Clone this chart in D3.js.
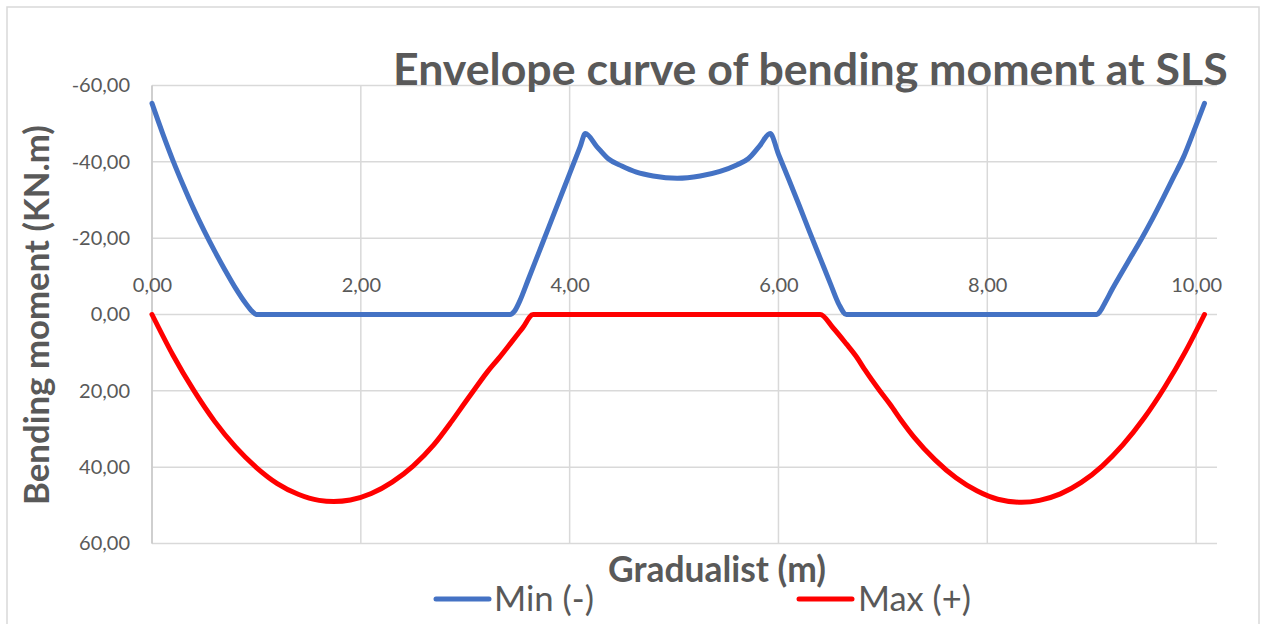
<!DOCTYPE html>
<html>
<head>
<meta charset="utf-8">
<script src="https://cdn.jsdelivr.net/npm/d3@7"></script>
<style>
  body { margin: 0; background: #fff; }
  svg { display: block; }
  text { font-family: Lato, "Open Sans", "Liberation Sans", sans-serif; fill: #595959; }
</style>
</head>
<body>
<svg id="chart" width="1261" height="624"></svg>
<script>
// Envelope of bending moment at SLS along the beam (position in m, moment in kN.m)
const minX = [0, 0.1, 0.2, 0.3, 0.4, 0.5, 0.6, 0.7, 0.8, 0.9, 0.96, 1.0, 1.05, 1.5, 2.0, 2.5, 3.0, 3.38, 3.43, 3.47, 3.525, 3.6, 3.7, 3.8, 3.9, 4.0, 4.1, 4.15,
  4.26, 4.37, 4.5, 4.64, 4.8, 5.03, 5.25, 5.44, 5.6, 5.71, 5.82, 5.92,
  6.0, 6.1, 6.2, 6.3, 6.4, 6.5, 6.58, 6.65, 6.7, 7.0, 7.5, 8.0, 8.5, 9.0, 9.05, 9.08, 9.13, 9.2, 9.28, 9.38, 9.48, 9.58, 9.68, 9.78, 9.88, 9.98, 10.08];
const minVal = [-55.3, -47.6, -40.4, -33.8, -27.6, -21.9, -16.6, -11.6, -6.9, -2.8, -0.8, 0, 0, 0, 0, 0, 0, 0, 0, -0.8, -3.7, -8.9, -15.9, -22.9, -29.9, -36.9, -43.9, -47.4,
  -44.0, -40.8, -38.9, -37.3, -36.3, -35.7, -36.3, -37.5, -39.2, -40.8, -44.2, -47.4,
  -42.0, -35.3, -28.5, -21.5, -14.7, -7.9, -2.6, 0, 0, 0, 0, 0, 0, 0, 0, -0.8, -3.2, -6.8, -10.6, -15.3, -20.0, -25.0, -30.3, -35.8, -41.3, -48.2, -55.3];

const maxX = [0, 0.2, 0.4, 0.6, 0.8, 1.0, 1.2, 1.4, 1.6, 1.74, 1.9, 2.1, 2.3, 2.5, 2.7, 2.87, 3.0, 3.1, 3.21, 3.32, 3.43, 3.55, 3.65,
  3.7, 4.0, 4.5, 5.0, 5.5, 6.0, 6.35, 6.4,
  6.52, 6.65, 6.75, 6.83, 6.97, 7.07, 7.18, 7.3, 7.5, 7.7, 7.9, 8.1, 8.33, 8.5, 8.7, 8.9, 9.1, 9.3, 9.5, 9.7, 9.9, 10.08];
const maxVal = [0, 10.6, 19.9, 28.0, 34.7, 40.1, 44.3, 47.1, 48.7, 49.0, 48.6, 46.9, 43.9, 39.7, 34.1, 28.0, 23.0, 19.2, 15.1, 11.5, 7.7, 3.5, 0,
  0, 0, 0, 0, 0, 0, 0, 0,
  3.4, 7.7, 11.2, 14.6, 20.0, 23.6, 27.9, 32.2, 38.1, 42.8, 46.2, 48.4, 49.2, 48.7, 47.0, 44.0, 39.7, 34.1, 27.2, 19.0, 9.6, 0];

const xTicks = [0, 2, 4, 6, 8, 10];
const yTicks = [-60, -40, -20, 0, 20, 40, 60];
const seriesNames = ["Min (-)", "Max (+)"];
const seriesColors = ["#4472C4", "#FF0000"];
const chartTitle = "Envelope curve of bending moment at SLS";
const xTitle = "Gradualist (m)";
const yTitle = "Bending moment (KN.m)";

const svg = d3.select("#chart");

const x = d3.scaleLinear().domain([0, 10.2]).range([152, 1217]);
const y = d3.scaleLinear().domain([-60, 60]).range([85.5, 543.5]);

const locale = d3.formatLocale({ decimal: ",", thousands: ".", grouping: [3], currency: ["", ""], minus: "-" });
const fmt = locale.format(".2f");

// chart frame
svg.append("rect")
  .attr("x", 7).attr("y", 7).attr("width", 1252).attr("height", 640)
  .attr("fill", "none").attr("stroke", "#d9d9d9").attr("stroke-width", 1.5);

// gridlines
const grid = svg.append("g").attr("stroke", "#d9d9d9").attr("stroke-width", 1.5);
grid.selectAll("line.h").data(yTicks).join("line")
  .attr("x1", x(0)).attr("x2", x(10.2))
  .attr("y1", d => y(d)).attr("y2", d => y(d));
grid.selectAll("line.v").data(xTicks).join("line")
  .attr("x1", d => x(d)).attr("x2", d => x(d))
  .attr("y1", y(-60)).attr("y2", y(60));
svg.append("line")
  .attr("x1", x(0)).attr("x2", x(0)).attr("y1", y(-60)).attr("y2", y(60))
  .attr("stroke", "#c8c8c8").attr("stroke-width", 1.5);

// value axis labels
const yAxis = d3.axisLeft(y).tickValues(yTicks).tickFormat(fmt).tickSize(0).tickPadding(22);
const gy = svg.append("g").attr("transform", `translate(${x(0)},0)`).call(yAxis);
gy.select(".domain").remove();
gy.selectAll("text").attr("font-size", 20).attr("fill", "#595959")
  .style("font-family", "Lato, 'Open Sans', sans-serif");

// category axis labels sit just above the zero line
const xAxis = d3.axisTop(x).tickValues(xTicks).tickFormat(fmt).tickSize(0).tickPadding(23);
const gx = svg.append("g").attr("transform", `translate(0,${y(0)})`).call(xAxis);
gx.select(".domain").remove();
gx.selectAll("text").attr("font-size", 20).attr("fill", "#595959")
  .style("font-family", "Lato, 'Open Sans', sans-serif");

// series lines
const line = d3.line().curve(d3.curveMonotoneX);
const series = [
  { xs: minX, vs: minVal, color: seriesColors[0] },
  { xs: maxX, vs: maxVal, color: seriesColors[1] }
];
svg.append("g").selectAll("path").data(series).join("path")
  .attr("d", s => line(s.xs.map((v, i) => [x(v), y(s.vs[i])])))
  .attr("fill", "none")
  .attr("stroke", s => s.color)
  .attr("stroke-width", 5)
  .attr("stroke-linejoin", "round")
  .attr("stroke-linecap", "round");

// shrink or grow a text to a given width
function fitWidth(sel, w) {
  const len = sel.node().getComputedTextLength();
  const fs = parseFloat(sel.attr("font-size"));
  sel.attr("font-size", fs * w / len);
}

// title
const t = svg.append("text").attr("x", 393).attr("y", 85)
  .attr("font-size", 37).attr("font-weight", 700).text(chartTitle);
fitWidth(t, 835);

// axis titles
const yt = svg.append("text")
  .attr("transform", "translate(49,315) rotate(-90)")
  .attr("text-anchor", "middle").attr("font-size", 34).attr("font-weight", 700).text(yTitle);
fitWidth(yt, 380);

const xt = svg.append("text").attr("x", 717).attr("y", 582)
  .attr("text-anchor", "middle").attr("font-size", 34).attr("font-weight", 700).text(xTitle);
fitWidth(xt, 218);

// legend
const legendItems = [
  { name: seriesNames[0], color: seriesColors[0], x1: 436, x2: 489, tx: 494, tw: 100 },
  { name: seriesNames[1], color: seriesColors[1], x1: 799, x2: 852, tx: 858, tw: 113 }
];
const lg = svg.append("g");
legendItems.forEach(d => {
  lg.append("line").attr("x1", d.x1).attr("x2", d.x2).attr("y1", 599).attr("y2", 599)
    .attr("stroke", d.color).attr("stroke-width", 5).attr("stroke-linecap", "round");
  const tx = lg.append("text").attr("x", d.tx).attr("y", 611).attr("font-size", 32).text(d.name);
  fitWidth(tx, d.tw);
});
</script>
</body>
</html>
